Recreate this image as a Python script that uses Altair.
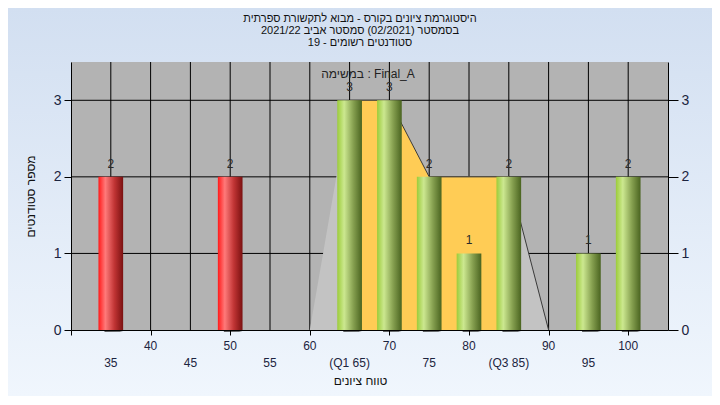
import altair as alt
import pandas as pd

# ---- data ----
scores = [35, 50, 65, 70, 75, 80, 85, 95, 100]
counts = [2, 2, 3, 3, 2, 1, 2, 1, 2]
failed = [True, True, False, False, False, False, False, False, False]

poly_x = [60, 65, 70, 75, 85, 90]
poly_y = [0, 3, 3, 2, 2, 0]
q1, q3 = 65, 85

x_ticks = [30, 35, 40, 45, 50, 55, 60, 65, 70, 75, 80, 85, 90, 95, 100, 105]
row1_values = [40, 50, 60, 70, 80, 90, 100]
row1_labels = ["40", "50", "60", "70", "80", "90", "100"]
row2_values = [35, 45, 55, 65, 75, 85, 95]
row2_labels = ["35", "45", "55", "(Q1 65)", "75", "(Q3 85)", "95"]
y_ticks = [0, 1, 2, 3]
x_range = [30, 105]
y_range = [0, 3.5]

title_lines = [
    "היסטוגרמת ציונים בקורס - מבוא לתקשורת ספרתית",
    "בסמסטר  (02/2021)  סמסטר אביב 2021/22",
    "סטודנטים רשומים - 19",
]
task_label = "במשימה : Final_A"
x_title = "טווח ציונים"
y_title = "מספר סטודנטים"

FONT = "Liberation Sans"
LBL = "#1c2440"
half = 1.55
W, H = 597, 268
PAD = {"left": 63, "top": 54, "right": 44, "bottom": 66}

bars = pd.DataFrame({"score": scores, "count": counts, "failed": failed})
bars["x0"] = bars["score"] - half
bars["x1"] = bars["score"] + half

poly = pd.DataFrame({"x": poly_x, "y": poly_y})
yellow = poly[(poly.x >= q1) & (poly.x <= q3)]
dark_line = poly[poly.x >= q1]

vgrid = pd.DataFrame({"v": [v for v in x_ticks if x_range[0] < v < x_range[1]]})
hgrid = pd.DataFrame({"v": [v for v in y_ticks if v > 0]})
row1 = pd.DataFrame({"v": row1_values, "t": row1_labels})
row2 = pd.DataFrame({"v": row2_values, "t": row2_labels})

xscale = alt.Scale(domain=x_range, nice=False, zero=False)
yscale = alt.Scale(domain=y_range, nice=False)

x_axis = alt.Axis(
    values=x_ticks, labels=False, grid=False, zindex=1,
    domainColor="#000000", tickColor="#000000", tickSize=5,
    title=x_title, titleFont=FONT, titleFontSize=12, titleFontWeight="normal",
    titleColor="#111111", titlePadding=40, titleX=289, titleBaseline="top",
)
y_axis = alt.Axis(
    values=y_ticks, format="d", grid=False, zindex=1,
    domainColor="#000000", tickColor="#000000", tickSize=7, labelFont=FONT,
    labelFontSize=14, labelColor=LBL, labelPadding=3, title=y_title,
    titleFont=FONT, titleFontSize=12, titleFontWeight="normal",
    titleColor="#111111", titlePadding=16,
)
y_axis_right = alt.Axis(
    values=y_ticks, format="d", grid=False, zindex=1, domainColor="#000000",
    tickColor="#000000", tickSize=10, labelFont=FONT, labelFontSize=14,
    labelColor=LBL, labelPadding=3, title=None, orient="right",
)

def X(field):
    return alt.X(field, scale=xscale, axis=x_axis)

def Y(field, axis=y_axis):
    return alt.Y(field, scale=yscale, axis=axis)

one = pd.DataFrame({"k": [0]})

bg_grad = alt.Gradient(
    gradient="linear", x1=0, x2=0, y1=0, y2=1,
    stops=[alt.GradientStop(color="#d2dff1", offset=0),
           alt.GradientStop(color="#f0f6fd", offset=1)],
)
background = alt.Chart(one).mark_rect(fill=bg_grad, clip=False).encode(
    x=alt.value(-PAD["left"]), x2=alt.value(W + PAD["right"]),
    y=alt.value(-PAD["top"]), y2=alt.value(H + PAD["bottom"]),
)
title_text = alt.Chart(one).mark_text(
    text=title_lines, font=FONT, fontSize=11, color="#111111", lineHeight=12,
    baseline="top", align="center",
).encode(x=alt.value(289), y=alt.value(-49))

plot_bg = alt.Chart(one).mark_rect(fill="#b3b3b3").encode(
    x=alt.X("a:Q", scale=xscale, axis=x_axis), x2="b:Q",
    y=alt.Y("c:Q", scale=yscale, axis=y_axis), y2="d:Q",
).transform_calculate(a=str(x_range[0]), b=str(x_range[1]), c=str(y_range[0]), d=str(y_range[1]))

vlines = alt.Chart(vgrid).mark_rule(color="#000000", strokeWidth=1).encode(
    x=X("v:Q"), y=alt.datum(y_range[0]), y2=alt.datum(y_range[1]),
)
hlines = alt.Chart(hgrid).mark_rule(color="#000000", strokeWidth=1).encode(
    y=Y("v:Q"), x=alt.datum(x_range[0]), x2=alt.datum(x_range[1]),
)

gray_area = alt.Chart(poly).mark_area(color="#c3c3c3", opacity=1).encode(
    x=X("x:Q"), y=Y("y:Q"),
)
yellow_area = alt.Chart(yellow).mark_area(color="#ffcc55", opacity=1).encode(
    x=X("x:Q"), y=Y("y:Q"),
)
poly_line = alt.Chart(dark_line).mark_line(color="#3a3a3a", strokeWidth=1).encode(
    x=X("x:Q"), y=Y("y:Q"),
)

shadow_grad = alt.Gradient(
    gradient="linear", x1=0, x2=1, y1=0, y2=0,
    stops=[alt.GradientStop(color="rgba(30,30,30,0.7)", offset=0),
           alt.GradientStop(color="rgba(30,30,30,0.6)", offset=0.82),
           alt.GradientStop(color="rgba(60,60,60,0)", offset=1)],
)
red_grad = alt.Gradient(
    gradient="linear", x1=0, x2=1, y1=0, y2=0,
    stops=[alt.GradientStop(color="#ff1a1a", offset=0),
           alt.GradientStop(color="#ff7a7a", offset=0.28),
           alt.GradientStop(color="#c03434", offset=0.65),
           alt.GradientStop(color="#7a1010", offset=1)],
)
green_grad = alt.Gradient(
    gradient="linear", x1=0, x2=1, y1=0, y2=0,
    stops=[alt.GradientStop(color="#9ccc3a", offset=0),
           alt.GradientStop(color="#cce890", offset=0.28),
           alt.GradientStop(color="#86a050", offset=0.65),
           alt.GradientStop(color="#4a6420", offset=1)],
)

def bar_enc(ch):
    return ch.encode(x=X("x0:Q"), x2="x1:Q", y=Y("count:Q"), y2=alt.datum(0))

shadow = bar_enc(alt.Chart(bars).mark_bar(fill=shadow_grad, xOffset=6, yOffset=3, y2Offset=2, clip=False))
red_bars = bar_enc(alt.Chart(bars).transform_filter("datum.failed").mark_bar(fill=red_grad))
green_bars = bar_enc(alt.Chart(bars).transform_filter("!datum.failed").mark_bar(fill=green_grad))

bar_labels = alt.Chart(bars).mark_text(
    dy=-6, font=FONT, fontSize=12, color="#2a2a2a", baseline="bottom"
).encode(x=X("score:Q"), y=Y("count:Q"), text="count:Q")

task_text = alt.Chart(pd.DataFrame({"t": [task_label]})).mark_text(
    font=FONT, fontSize=12, color="#222222", baseline="middle"
).encode(x=alt.value(297), y=alt.value(12), text="t:N")

xlab1 = alt.Chart(row1).mark_text(
    font=FONT, fontSize=12, color=LBL, baseline="middle", clip=False
).encode(x=X("v:Q"), y=alt.value(H + 16), text="t:N")
xlab2 = alt.Chart(row2).mark_text(
    font=FONT, fontSize=12, color=LBL, baseline="middle", clip=False
).encode(x=X("v:Q"), y=alt.value(H + 33), text="t:N")

main = alt.layer(
    background, title_text, plot_bg, vlines, hlines, gray_area, yellow_area,
    poly_line, shadow, red_bars, green_bars, bar_labels, task_text, xlab1, xlab2,
)
right = alt.Chart(bars).mark_point(opacity=0).encode(
    x=X("score:Q"), y=Y("count:Q", axis=y_axis_right),
)

chart = alt.layer(main, right).resolve_axis(y="independent").properties(
    width=W, height=H,
    padding=PAD,
    autosize=alt.AutoSizeParams(type="none"),
    background="#e4edf8",
).configure_view(stroke=None)

chart.save("out.html", embed_options={"renderer": "svg", "actions": False})
